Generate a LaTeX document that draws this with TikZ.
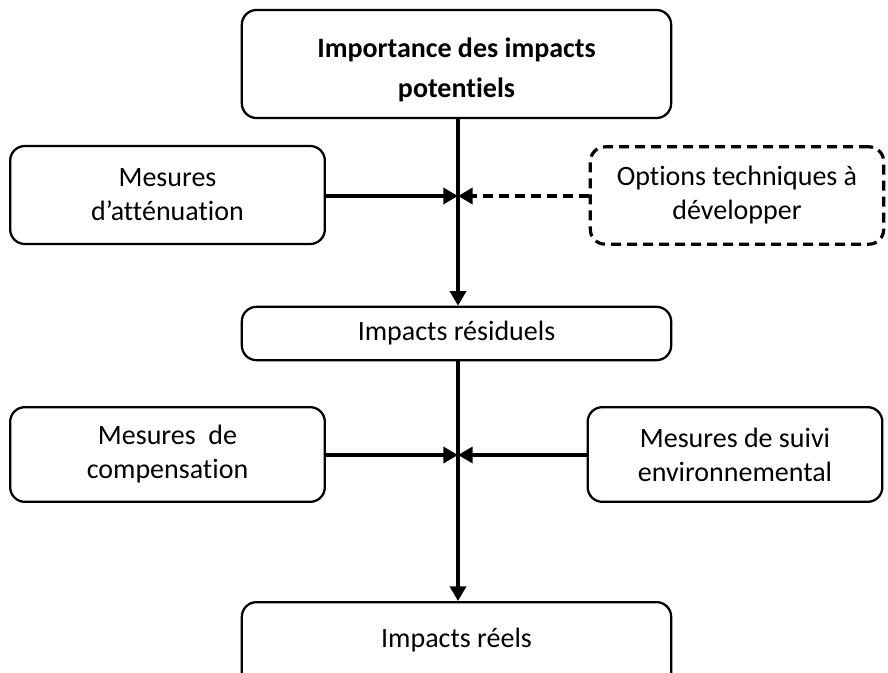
\documentclass[tikz,border=0pt]{standalone}
\usepackage{fontspec}
\setmainfont[Ligatures={NoCommon}]{Carlito}
\usetikzlibrary{arrows.meta}
\begin{document}
\begin{tikzpicture}[x=0.75pt,y=-0.75pt,
  box/.style={draw,line width=1.7pt,rounded corners=11pt,align=center,
    inner sep=0pt,font=\fontsize{21}{25.5}\selectfont},
  dashbox/.style={box,line width=2.4pt,dash pattern=on 7.5pt off 4.5pt},
  flow/.style={line width=2.6pt,-{Triangle[length=11pt,width=12pt]}},
  dflow/.style={flow,dash pattern=on 7.5pt off 4.5pt}]
\useasboundingbox (0,0) rectangle (888,673);
\clip (0,0) rectangle (888,673);
% boxes
\node[box,minimum width=322pt,minimum height=81pt] (top) at (456.5,64) {};
\node[font=\fontsize{21}{25}\selectfont\bfseries,align=center] (toptxt) at (456.5,69.5)
  {Importance des impacts\\[5pt]potentiels};
\node[box,minimum width=236pt,minimum height=73.5pt] (att) at (167.5,195) {Mesures\\d’atténuation};
\node[dashbox,minimum width=220pt,minimum height=73pt] (opt) at (737,195.5) {Options techniques à\\développer};
\node[box,minimum width=322pt,minimum height=40pt] (res) at (456.5,333.5) {Impacts résiduels};
\node[box,minimum width=236pt,minimum height=71pt] (comp) at (167.5,454.5) {Mesures~~de\\compensation};
\node[box,minimum width=221pt,minimum height=71pt] (suivi) at (735,454.5) {Mesures de suivi\\environnemental};
\node[box,minimum width=322pt,minimum height=66pt,anchor=north] (reel) at (456.5,601) {};
\node[font=\fontsize{21}{25.5}\selectfont] (reeltxt) at (456.5,640) {Impacts réels};
% junctions on the main axis
\coordinate (j1) at (458,196);
\coordinate (j2) at (458,455);
% connectors
\draw[flow] (top.south -| j1) -- (res.north -| j1);
\draw[flow] (att.east |- j1) -- (j1);
\draw[dflow] (opt.west |- j1) -- (j1);
\draw[flow] (res.south -| j2) -- (reel.north -| j2);
\draw[flow] (comp.east |- j2) -- (j2);
\draw[flow] (suivi.west |- j2) -- (j2);
\end{tikzpicture}
\end{document}
